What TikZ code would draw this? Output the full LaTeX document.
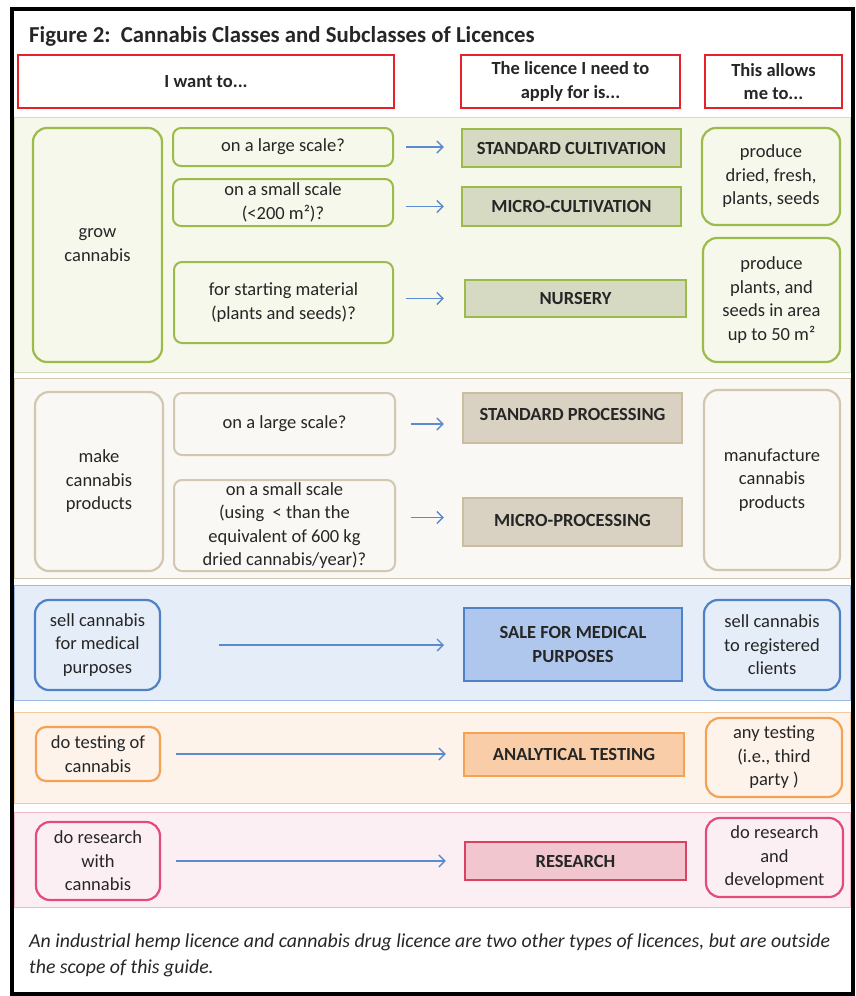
\documentclass[tikz,border=0pt]{standalone}
\usepackage{fontspec}
\setmainfont{Carlito}
\usetikzlibrary{arrows.meta}
\definecolor{hred}{HTML}{E62129}
\definecolor{gbord}{HTML}{9DBB4A}
\definecolor{gband}{HTML}{F5F8EB}
\definecolor{gbandl}{HTML}{D3DCBC}
\definecolor{glic}{HTML}{D6DAC3}
\definecolor{tbord}{HTML}{D2C7B0}
\definecolor{tband}{HTML}{FAF8F4}
\definecolor{tlic}{HTML}{D9D2C2}
\definecolor{tlicb}{HTML}{CBBD9F}
\definecolor{bbord}{HTML}{4F81C7}
\definecolor{bband}{HTML}{E4EDF8}
\definecolor{bbandl}{HTML}{9DB9DE}
\definecolor{blic}{HTML}{AFC7EC}
\definecolor{obord}{HTML}{F5A255}
\definecolor{oband}{HTML}{FDF3EB}
\definecolor{obandl}{HTML}{F4C9A0}
\definecolor{olic}{HTML}{F9CDA8}
\definecolor{pbord}{HTML}{E24C7A}
\definecolor{pband}{HTML}{FCEFF3}
\definecolor{pbandl}{HTML}{F0B7C8}
\definecolor{plic}{HTML}{F2C6CF}
\definecolor{plicb}{HTML}{D9435F}
\definecolor{arrc}{HTML}{5B8ACF}
\definecolor{txt}{HTML}{262626}
\tikzset{
  corners/.style n args={4}{minimum width={(#3-#1)*1pt}, minimum height={(#4-#2)*1pt}, at={({(#1+#3)/2},{(#2+#4)/2})}},
  body/.style={font=\fontsize{18.5}{23.5}\selectfont, text=txt, align=center, inner sep=0pt, anchor=center},
  hdr/.style={body, draw=hred, line width=2.6pt, font=\fontsize{18.5}{23.5}\selectfont\bfseries},
  band/.style={draw=#1, line width=1pt},
  qbox/.style={body, draw=#1, line width=2pt, rounded corners=8pt},
  bigbox/.style={body, draw=#1, line width=2.2pt, rounded corners=14pt},
  lic/.style 2 args={body, draw=#1, fill=#2, line width=2.4pt, font=\fontsize{18.5}{23.5}\selectfont\bfseries},
  arr/.style={draw=arrc, line width=1.3pt, -{Straight Barb[length=6pt,width=12pt]}},
}
\begin{document}
\begin{tikzpicture}[x=1pt,y=-1pt]
\useasboundingbox (0,0) rectangle (856,996);
\fill[white] (0,0) rectangle (856,996);
\draw[black, line width=4pt] (12,9) rectangle (853,994);
\draw[black, line width=3pt] (12,9) -- (12,994);

\node[anchor=west, text=txt, inner sep=0pt, font=\fontsize{22.8}{26}\selectfont\bfseries] (title) at (29,36) {Figure 2:\ \ Cannabis Classes and Subclasses of Licences};

% headers
\node[hdr, corners={18}{55}{394}{108}] (h1) {I want to...};
\node[hdr, corners={461}{55}{680}{108}] (h2) {The licence I need to\\apply for is...};
\node[hdr, corners={705}{55}{842}{108}] (h3) {This allows\\me to...};

% bands
\filldraw[band=gbandl, fill=gband] (14,117) rectangle (850,372);
\filldraw[band=tbord, fill=tband] (14,378) rectangle (850,578);
\filldraw[band=bbandl, fill=bband] (14,585) rectangle (850,700);
\filldraw[band=obandl, fill=oband] (14,712) rectangle (850,803);
\filldraw[band=pbandl, fill=pband] (14,812) rectangle (850,907);

% green
\node[bigbox=gbord, corners={33}{128}{162}{362}] (g0) {grow\\cannabis};
\node[qbox=gbord, corners={173}{128}{393}{166}] (g1) {on a large scale?};
\node[qbox=gbord, corners={173}{179}{393}{226}] (g2) {on a small scale\\(<200 m²)?};
\node[qbox=gbord, corners={174}{262}{393}{343}] (g3) {for starting material\\(plants and seeds)?};
\node[lic={gbord}{glic}, corners={462}{129}{681}{167}] (L1) {STANDARD CULTIVATION};
\node[lic={gbord}{glic}, corners={462}{187}{681}{226}] (L2) {MICRO-CULTIVATION};
\node[lic={gbord}{glic}, corners={465}{280}{686}{317}] (L3) {NURSERY};
\node[bigbox=gbord, corners={702}{128}{840}{225}] (r1) {produce\\dried, fresh,\\plants, seeds};
\node[bigbox=gbord, corners={703}{238}{840}{362}] (r2) {produce\\plants, and\\seeds in area\\up to 50 m²};
\draw[arr, shorten <=12pt, shorten >=17pt] (g1.east) -- (g1.east -| L1.west);
\draw[arr, shorten <=12pt, shorten >=17pt] (g2.east |- L2.west) -- (L2.west);
\draw[arr, shorten <=12pt, shorten >=20pt] (g3.east |- L3.west) -- (L3.west);

% tan
\node[bigbox=tbord, corners={35}{392}{163}{571}] (t0) {make\\cannabis\\products};
\node[qbox=tbord, corners={174}{393}{395}{455}] (t1) {on a large scale?};
\node[qbox=tbord, corners={174}{480}{395}{571}] (t2) {on a small scale\\(using\ \ < than the\\equivalent of 600 kg\\dried cannabis/year)?};
\node[lic={tlicb}{tlic}, corners={463}{393}{682}{443}] (P1) {\raisebox{7pt}{STANDARD PROCESSING}};
\node[lic={tlicb}{tlic}, corners={463}{498}{682}{546}] (P2) {\raisebox{4pt}{MICRO-PROCESSING}};
\node[bigbox=tbord, corners={704}{390}{840}{570}] (t3) {manufacture\\cannabis\\products};
\draw[arr, shorten <=15pt, shorten >=18pt] (t1.east) -- (t1.east -| P1.west);
\draw[arr, shorten <=15pt, shorten >=18pt] ([yshift=8pt]t2.east) -- ([yshift=8pt]t2.east -| P2.west);

% blue
\node[bigbox=bbord, corners={35}{600}{160}{690}] (b0) {sell cannabis\\for medical\\purposes};
\node[lic={bbord}{blic}, line width=2pt, corners={464}{608}{682}{681}] (B1) {SALE FOR MEDICAL\\PURPOSES};
\node[bigbox=bbord, corners={704}{600}{840}{690}] (b2) {sell cannabis\\to registered\\clients};
\draw[arr, shorten <=58pt, shorten >=19pt] (b0.east) -- (b0.east -| B1.west);

% orange
\node[bigbox=obord, rounded corners=10pt, corners={36}{727}{160}{781}] (o0) {do testing of\\cannabis};
\node[lic={obord}{olic}, corners={464}{733}{684}{776}] (O1) {ANALYTICAL TESTING};
\node[bigbox=obord, corners={706}{718}{842}{797}] (o2) {any testing\\(i.e., third\\party )};
\draw[arr, shorten <=15pt, shorten >=17pt] (o0.east) -- (o0.east -| O1.west);

% pink
\node[bigbox=pbord, corners={36}{822}{160}{900}] (p0) {do research\\with\\cannabis};
\node[lic={plicb}{plic}, corners={465}{842}{686}{880}] (R1) {RESEARCH};
\node[bigbox=pbord, corners={706}{818}{843}{897}] (p2) {do research\\and\\development};
\draw[arr, shorten <=15pt, shorten >=18pt] (p0.east) -- (p0.east -| R1.west);

% footer
\node[anchor=north west, text=txt, inner sep=0pt, align=left, font=\fontsize{19.8}{26}\selectfont\itshape] (foot) at (29,934) {An industrial hemp licence and cannabis drug licence are two other types of licences, but are outside\\the scope of this guide.};
\end{tikzpicture}
\end{document}
